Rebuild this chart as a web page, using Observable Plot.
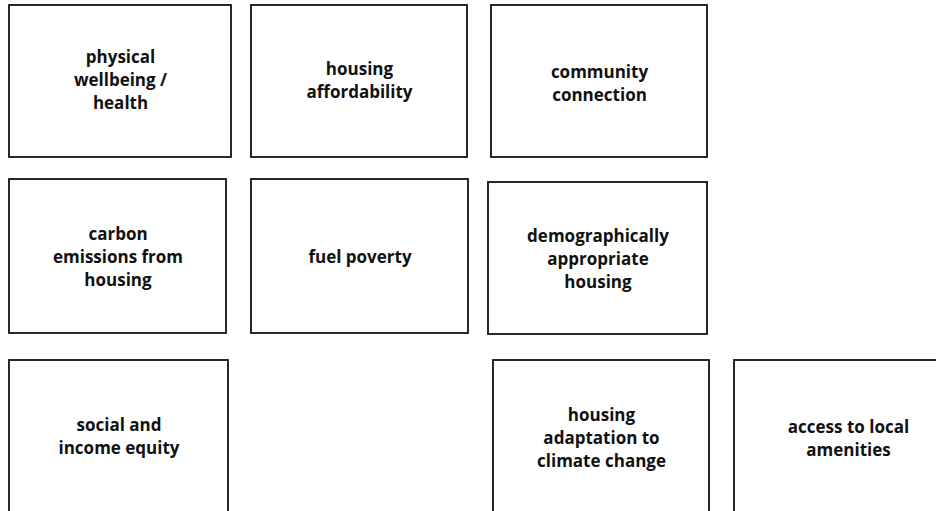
<!DOCTYPE html>
<html>
<head>
<meta charset="utf-8">
<script src="https://cdn.jsdelivr.net/npm/d3@7"></script>
<script src="https://cdn.jsdelivr.net/npm/@observablehq/plot@0.6"></script>
<style>
  html, body { margin: 0; padding: 0; background: #fff; overflow: hidden; }
  #chart svg { display: block; }
</style>
</head>
<body>
<div id="chart"></div>
<script>
// Concept boxes (labels) and their extents
const labels = [
  "physical\nwellbeing /\nhealth",
  "housing\naffordability",
  "community\nconnection",
  "carbon\nemissions from\nhousing",
  "fuel poverty",
  "demographically\nappropriate\nhousing",
  "social and\nincome equity",
  "housing\nadaptation to\nclimate change",
  "access to local\namenities"
];
const boxLeft   = [9,   251, 491, 9,   251, 488, 9,   493, 734];
const boxRight  = [231, 467, 707, 226, 468, 707, 228, 709, 962];
const boxTop    = [5,   5,   5,   179, 179, 182, 360, 360, 360];
const boxBottom = [157, 157, 157, 333, 333, 334, 515, 515, 515];
const textMid   = [78,  79,  82,  255, 255, 257, 435, 436, 437];

const boxes = labels.map((label, i) => ({
  label,
  x1: boxLeft[i], x2: boxRight[i],
  y1: boxTop[i], y2: boxBottom[i],
  cx: (boxLeft[i] + boxRight[i]) / 2,
  cy: textMid[i]
}));

const chart = Plot.plot({
  width: 936,
  height: 511,
  margin: 0,
  x: {domain: [0, 936], range: [0, 936], axis: null},
  y: {domain: [0, 511], range: [0, 511], axis: null},
  style: {background: "#fff"},
  marks: [
    Plot.rect(boxes, {
      x1: "x1", x2: "x2", y1: "y1", y2: "y2",
      fill: "#fff", stroke: "#111", strokeWidth: 1.8, clip: true
    }),
    Plot.text(boxes, {
      x: "cx", y: "cy", text: "label",
      fill: "#111",
      fontFamily: "'Open Sans', Lato, sans-serif",
      fontWeight: "bold",
      fontSize: 17,
      lineHeight: 1.36,
      textAnchor: "middle"
    })
  ]
});
document.getElementById("chart").appendChild(chart);
</script>
</body>
</html>
